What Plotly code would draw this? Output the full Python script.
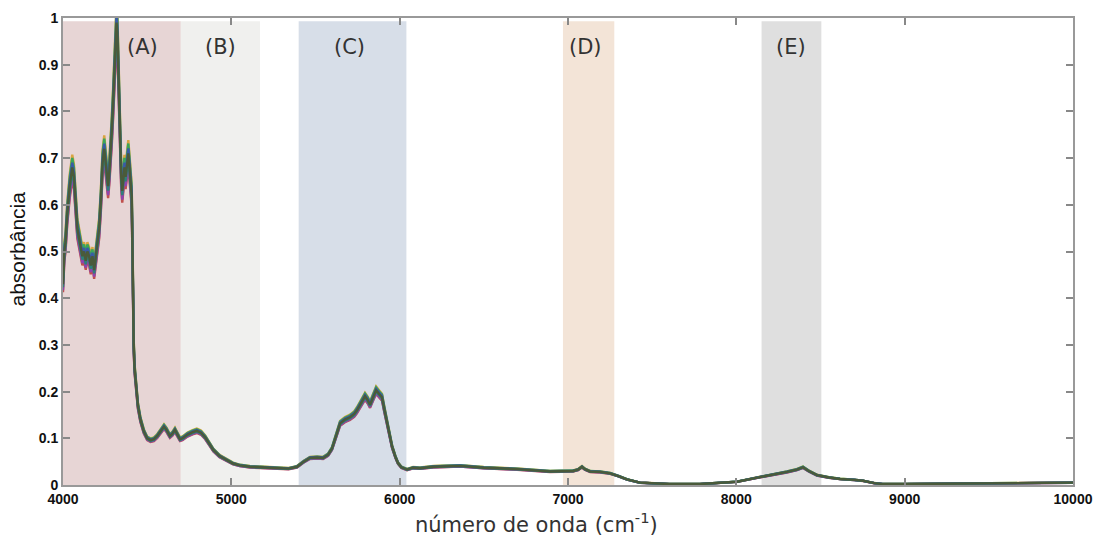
import plotly.graph_objects as go

# ---- data ----
wavenumber = [4000, 4008, 4015, 4025, 4040, 4055, 4065, 4075, 4085, 4095, 4105, 4115, 4125, 4135,
              4145, 4155, 4165, 4175, 4185, 4195, 4205, 4215, 4225, 4235, 4245, 4252, 4260, 4268,
              4275, 4283, 4290, 4298, 4306, 4312, 4318, 4323, 4328, 4334, 4340, 4346, 4352, 4358,
              4365, 4372, 4380, 4388, 4395, 4402, 4408, 4413, 4416, 4420, 4425, 4435, 4445, 4460,
              4480, 4500, 4520, 4540, 4560, 4580, 4600, 4615, 4635, 4650, 4665, 4680, 4695, 4710,
              4740, 4770, 4795, 4820, 4845, 4870, 4893, 4930, 4973, 5010, 5050, 5110, 5170, 5230,
              5290, 5340, 5390, 5430, 5467, 5510, 5545, 5575, 5598, 5620, 5646, 5675, 5705, 5730,
              5746, 5775, 5794, 5810, 5824, 5840, 5860, 5878, 5895, 5910, 5925, 5940, 5955, 5975,
              5990, 6010, 6044, 6080, 6121, 6200, 6300, 6358, 6500, 6697, 6893, 7030, 7060, 7083,
              7100, 7131, 7190, 7250, 7300, 7350, 7428, 7600, 7784, 7900, 8004, 8141, 8220, 8301,
              8360, 8396, 8430, 8479, 8550, 8616, 8700, 8753, 8820, 8871, 9000, 9400, 9800, 10000]
absorbance = [0.43, 0.50, 0.52, 0.58, 0.64, 0.68, 0.66, 0.60, 0.55, 0.53, 0.51, 0.49, 0.50, 0.48,
              0.50, 0.49, 0.47, 0.49, 0.46, 0.49, 0.52, 0.55, 0.61, 0.69, 0.72, 0.69, 0.66, 0.64,
              0.67, 0.71, 0.76, 0.82, 0.90, 0.96, 0.99, 0.97, 0.90, 0.80, 0.74, 0.66, 0.63, 0.66,
              0.68, 0.66, 0.69, 0.71, 0.68, 0.64, 0.62, 0.50, 0.38, 0.30, 0.25, 0.20, 0.17, 0.14,
              0.115, 0.100, 0.096, 0.098, 0.105, 0.115, 0.125, 0.118, 0.105, 0.110, 0.118, 0.108, 0.098, 0.100,
              0.108, 0.113, 0.116, 0.112, 0.102, 0.088, 0.075, 0.062, 0.053, 0.046, 0.042, 0.039, 0.038, 0.037,
              0.036, 0.035, 0.039, 0.050, 0.058, 0.059, 0.058, 0.065, 0.078, 0.105, 0.132, 0.140, 0.145, 0.152,
              0.160, 0.178, 0.190, 0.182, 0.172, 0.186, 0.203, 0.195, 0.188, 0.160, 0.132, 0.105, 0.082, 0.060,
              0.047, 0.038, 0.033, 0.037, 0.036, 0.039, 0.041, 0.041, 0.037, 0.034, 0.029, 0.030, 0.033, 0.039,
              0.034, 0.029, 0.028, 0.025, 0.019, 0.012, 0.005, 0.002, 0.002, 0.004, 0.007, 0.017, 0.022, 0.028,
              0.033, 0.038, 0.030, 0.021, 0.016, 0.013, 0.011, 0.009, 0.004, 0.002, 0.002, 0.003, 0.004, 0.005]

# per-sample intensity factors (spectra overlap as a thick band)
sample_scale = [1.04, 0.96, 1.03, 0.97, 1.015, 0.985, 1.0]
sample_colors = ["#d9a441", "#c0504d", "#3aa65a", "#8e44ad", "#3b5ba5", "#2f7f7a", "#4a5a3a"]

# shaded regions
region_labels = ["(A)", "(B)", "(C)", "(D)", "(E)"]
region_start = [4000, 4700, 5400, 6970, 8150]
region_end = [4700, 5170, 6040, 7275, 8505]
region_label_x = [4475, 4936, 5699, 7101, 8325]
region_colors = ["rgb(231,213,213)", "rgb(240,240,238)", "rgb(215,222,232)",
                 "rgb(243,228,215)", "rgb(223,223,223)"]

x_ticks = [4000, 5000, 6000, 7000, 8000, 9000, 10000]
y_ticks = [0, 0.1, 0.2, 0.3, 0.4, 0.5, 0.6, 0.7, 0.8, 0.9, 1]
y_tick_text = ["0", "0.1", "0.2", "0.3", "0.4", "0.5", "0.6", "0.7", "0.8", "0.9", "1"]

fig = go.Figure()

for s, c in zip(sample_scale, sample_colors):
    fig.add_trace(go.Scatter(
        x=wavenumber, y=[v * s for v in absorbance], mode="lines",
        line=dict(color=c, width=2.4), showlegend=False, hoverinfo="skip"))

shapes = []
annotations = []
for lab, x0, x1, xl, col in zip(region_labels, region_start, region_end, region_label_x, region_colors):
    shapes.append(dict(type="rect", xref="x", yref="y", x0=x0, x1=x1, y0=0, y1=0.993,
                       fillcolor=col, line=dict(width=0), layer="below"))
    annotations.append(dict(x=xl, y=0.938, xref="x", yref="y", text=lab, showarrow=False,
                            font=dict(family="DejaVu Sans", size=21, color="#333333")))

# axis titles as annotations in paper coordinates
annotations.append(dict(x=0.5, y=0, xref="paper", yref="paper", yshift=-38, xshift=-32,
                        xanchor="center", yanchor="middle",
                        text="número de onda (cm<sup>-1</sup>)", showarrow=False,
                        font=dict(family="DejaVu Sans", size=21, color="#333333")))
annotations.append(dict(x=0, y=0.5, xref="paper", yref="paper", xshift=-46, yshift=2,
                        xanchor="center", yanchor="middle",
                        text="absorbância", showarrow=False, textangle=-90,
                        font=dict(family="Liberation Sans", size=21, color="#111111")))

fig.update_layout(
    width=1096, height=536,
    margin=dict(l=63, r=23, t=18, b=51, autoexpand=False),
    paper_bgcolor="white", plot_bgcolor="white",
    shapes=shapes, annotations=annotations,
    xaxis=dict(range=[4000, 10000], tickmode="array", tickvals=x_ticks,
               ticktext=[str(t) for t in x_ticks], automargin=False,
               ticks="inside", ticklen=7, tickwidth=1.5, tickcolor="#888888",
               showline=True, linecolor="#999999", linewidth=2, mirror="ticks",
               showgrid=False, zeroline=False,
               tickfont=dict(family="Liberation Sans", size=14, color="#111111", weight="bold")),
    yaxis=dict(range=[0, 1], tickmode="array", tickvals=y_ticks, ticktext=y_tick_text,
               automargin=False,
               ticks="inside", ticklen=7, tickwidth=1.5, tickcolor="#888888",
               showline=True, linecolor="#999999", linewidth=2, mirror="ticks",
               showgrid=False, zeroline=False,
               tickfont=dict(family="Liberation Sans", size=14, color="#111111", weight="bold")),
)

fig.write_html("out.html", config={"displayModeBar": False},
               post_script="document.body.style.margin='0';")
